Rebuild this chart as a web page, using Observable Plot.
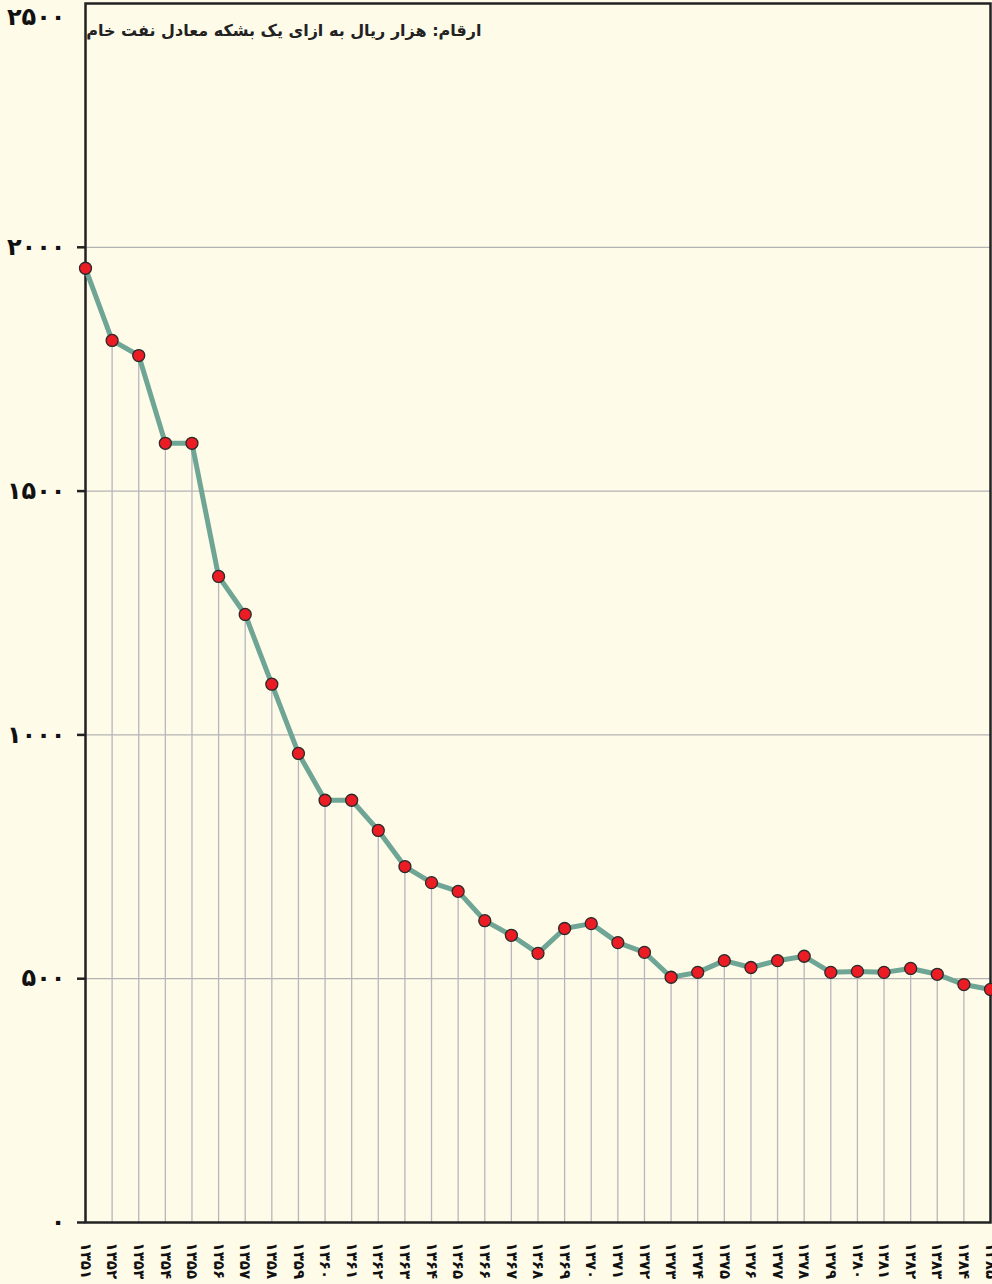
<!DOCTYPE html>
<html>
<head>
<meta charset="utf-8">
<script src="https://cdn.jsdelivr.net/npm/d3@7"></script>
<script src="https://cdn.jsdelivr.net/npm/@observablehq/plot@0.6"></script>
<style>
  html, body { margin: 0; padding: 0; background: #fefbe9; }
  #chart svg { display: block; background: #fefbe9; }
</style>
</head>
<body>
<div id="chart"></div>
<script>
// Years (Persian calendar) and values: thousand rials per barrel of crude oil equivalent
const years = [1351,1352,1353,1354,1355,1356,1357,1358,1359,1360,1361,1362,1363,1364,1365,1366,1367,1368,1369,1370,1371,1372,1373,1374,1375,1376,1377,1378,1379,1380,1381,1382,1383,1384,1385];
const values = [1957,1809,1778,1598,1598,1325,1247,1104,962,866,866,804,730,697,679,619,589,552,603,613,574,554,503,513,537,523,537,546,513,515,513,521,509,488,478];
const yTicks = [0, 500, 1000, 1500, 2000];
const yTopTick = [2500];
const gridValues = [500, 1000, 1500, 2000];
const title = "ارقام: هزار ریال به ازای یک بشکه معادل نفت خام";

const fa = s => String(s).replace(/\d/g, d => "۰۱۲۳۴۵۶۷۸۹"[d]);
const data = years.map((year, i) => ({year, value: values[i]}));

const chart = Plot.plot({
  width: 992,
  height: 1284,
  marginLeft: 85,
  marginRight: 2,
  marginTop: 3,
  marginBottom: 62,
  style: {background: "#fefbe9", fontFamily: "DejaVu Sans", color: "#111"},
  x: {type: "linear", domain: [years[0], years[years.length - 1]], label: null},
  y: {domain: [0, 2500], label: null},
  marks: [
    Plot.ruleY(gridValues, {stroke: "#b3b3b3", strokeWidth: 1.3}),
    Plot.ruleX(data, {x: "year", y1: 0, y2: "value", stroke: "#b6b6be", strokeWidth: 1.3}),
    Plot.frame({stroke: "#222", strokeWidth: 2.5}),
    Plot.axisY(yTicks, {label: null, tickSize: 8, tickPadding: 12, fontSize: 24, fontWeight: "bold", tickFormat: fa, stroke: "#222", strokeWidth: 2.5}),
    Plot.axisY(yTopTick, {label: null, tickSize: 0, tickPadding: 20, dy: 14, fontSize: 24, fontWeight: "bold", tickFormat: fa}),
    Plot.axisX(years, {label: null, tickSize: 0, tickPadding: 20, tickRotate: 90, fontSize: 15, fontWeight: "bold", tickFormat: fa}),
    Plot.line(data, {x: "year", y: "value", stroke: "#6fa595", strokeWidth: 5}),
    Plot.dot(data, {x: "year", y: "value", r: 6, fill: "#ec1c24", stroke: "#2a2a2a", strokeWidth: 1.3}),
    Plot.text([title], {frameAnchor: "top-left", dx: 396, dy: 27, textAnchor: "end", lineAnchor: "middle", fontSize: 16, fontWeight: "bold", fill: "#222"})
  ]
});
document.getElementById("chart").appendChild(chart);
</script>
</body>
</html>
